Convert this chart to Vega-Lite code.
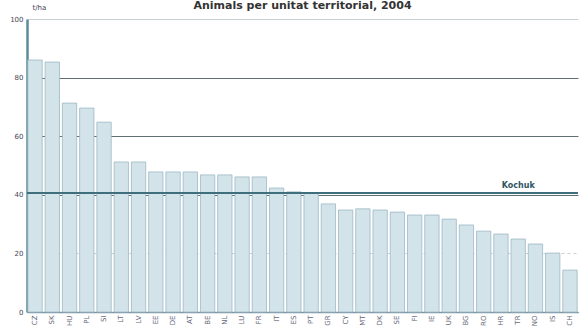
{
  "$schema": "https://vega.github.io/schema/vega-lite/v6.json",
  "autosize": {"type": "none"},
  "width": 551,
  "height": 293,
  "padding": {"left": 27, "top": 19, "right": 1, "bottom": 17},
  "background": "white",
  "title": {"text": "Animals per unitat territorial, 2004", "fontSize": 11, "fontWeight": "bold", "color": "#333", "offset": 7, "dy": 15, "anchor": "middle", "font": "DejaVu Sans"},
  "config": {"view": {"stroke": null}, "font": "DejaVu Sans"},
  "datasets": {
    "bars": [
      {"c": "CZ", "v": 86.0}, {"c": "SK", "v": 85.3}, {"c": "HU", "v": 71.3}, {"c": "PL", "v": 69.6},
      {"c": "SI", "v": 64.8}, {"c": "LT", "v": 51.2}, {"c": "LV", "v": 51.2}, {"c": "EE", "v": 47.8},
      {"c": "DE", "v": 47.8}, {"c": "AT", "v": 47.8}, {"c": "BE", "v": 46.8}, {"c": "NL", "v": 46.8},
      {"c": "LU", "v": 46.1}, {"c": "FR", "v": 46.1}, {"c": "IT", "v": 42.3}, {"c": "ES", "v": 41.0},
      {"c": "PT", "v": 40.6}, {"c": "GR", "v": 36.9}, {"c": "CY", "v": 34.8}, {"c": "MT", "v": 35.2},
      {"c": "DK", "v": 34.8}, {"c": "SE", "v": 34.1}, {"c": "FI", "v": 33.1}, {"c": "IE", "v": 33.1},
      {"c": "UK", "v": 31.7}, {"c": "BG", "v": 29.7}, {"c": "RO", "v": 27.6}, {"c": "HR", "v": 26.6},
      {"c": "TR", "v": 24.9}, {"c": "NO", "v": 23.2}, {"c": "IS", "v": 20.1}, {"c": "CH", "v": 14.3}
    ],
    "avg": [{"label": "Kochuk", "v": 40.6, "at": "TR"}]
  },
  "layer": [
    {
      "data": {"name": "bars"},
      "mark": {"type": "bar", "fill": "#d3e3ea", "stroke": "#9db8c3", "strokeWidth": 0.8},
      "encoding": {
        "x": {"field": "c", "type": "nominal", "sort": null,
              "scale": {"domain": ["CZ","SK","HU","PL","SI","LT","LV","EE","DE","AT","BE","NL","LU","FR","IT","ES","PT","GR","CY","MT","DK","SE","FI","IE","UK","BG","RO","HR","TR","NO","IS","CH"], "paddingInner": 0.17, "paddingOuter": 0.05},
              "axis": {"title": null, "labelAngle": -90, "labelFontSize": 7, "labelColor": "#667", "labelAlign": "right", "labelBaseline": "middle", "labelPadding": 3, "ticks": false, "domainColor": "#7b98a3", "domainWidth": 1.5}},
        "y": {"field": "v", "type": "quantitative",
              "scale": {"domain": [0, 100], "nice": false},
              "axis": {"values": [0, 20, 40, 60, 80, 100], "title": "t/ha", "titleAngle": 0, "titleAlign": "left", "titleBaseline": "bottom", "titleX": 5, "titleY": -9, "titleFontSize": 7, "titleFontWeight": "normal", "titleColor": "#445",
                       "labelFontSize": 7, "labelColor": "#445", "labelPadding": 4, "ticks": false,
                       "domainColor": "#5a8c9a", "domainWidth": 2.5,
                       "grid": true, "gridColor": {"condition": {"test": "datum.value === 100 || datum.value === 20", "value": "#c8d0d4"}, "value": "#5f6f74"},
                       "gridDash": {"condition": {"test": "datum.value === 20", "value": [3, 3]}, "value": []},
                       "gridWidth": 1}}
      }
    },
    {
      "data": {"name": "avg"},
      "mark": {"type": "rule", "color": "#3f6f7c", "strokeWidth": 2},
      "encoding": {"y": {"field": "v", "type": "quantitative"}}
    },
    {
      "data": {"name": "avg"},
      "mark": {"type": "text", "fontSize": 8, "fontWeight": "bold", "color": "#2f5663", "dy": -7, "align": "center"},
      "encoding": {
        "x": {"field": "at", "type": "nominal", "sort": null},
        "y": {"field": "v", "type": "quantitative"},
        "text": {"field": "label"}
      }
    }
  ]
}
